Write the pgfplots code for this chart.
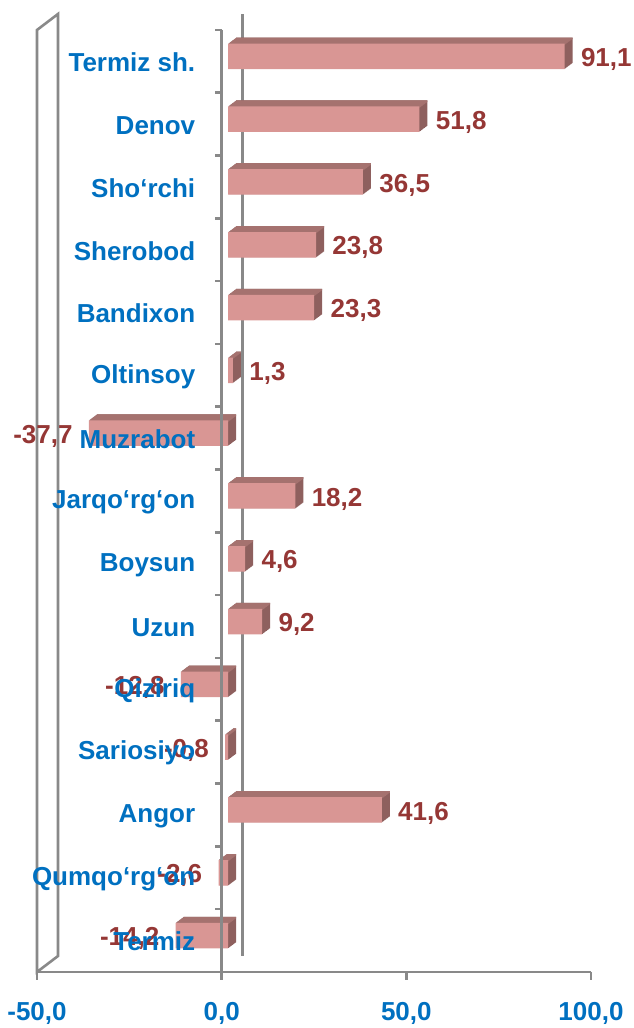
\documentclass[border=0pt]{standalone}
\usepackage{pgfplots}
\pgfplotsset{compat=1.18}
\usepackage{pgfplotstable}
\usepackage{fontspec}
\setmainfont{Liberation Sans}
\definecolor{frontc}{HTML}{D99694}
\definecolor{topc}{HTML}{A5726F}
\definecolor{sidec}{HTML}{8E605E}
\definecolor{axisgray}{HTML}{898989}
\definecolor{labelred}{HTML}{953735}
\definecolor{tickblue}{HTML}{0070C0}
\pgfplotstableread{
y v
0 -14.2
1 -2.6
2 41.6
3 -0.8
4 -12.8
5 9.2
6 4.6
7 18.2
8 -37.7
9 1.3
10 23.3
11 23.8
12 36.5
13 51.8
14 91.1
}\data
\begin{document}
\begin{tikzpicture}
\begin{axis}[
  set layers=axis on top,
  scale only axis, width=277pt, height=471pt,
  xmin=-50, xmax=100, ymin=-0.5, ymax=14.5,
  xtick={-50,0,50,100},
  ytick={0,...,14},
  yticklabels={Termiz,Qumqo‘rg‘on,Angor,Sariosiyo,Qiziriq,Uzun,Boysun,Jarqo‘rg‘on,Muzrabot,Oltinsoy,Bandixon,Sherobod,Sho‘rchi,Denov,Termiz sh.},
  axis line style={draw=none},
  tick style={draw=none},
  major tick length=0pt,
  /pgf/number format/.cd, fixed, fixed zerofill, precision=1, use comma, assume math mode=true,
  /pgfplots/.cd,
  ticklabel style={font=\bfseries\fontsize{13pt}{15pt}\selectfont, text=tickblue, inner sep=0pt},
  xticklabel style={anchor=north, yshift=-14.8pt},
  yticklabel style={anchor=east, xshift=79.3pt, yshift=-0.5pt},
  clip=false,
]
% background: left wall and back zero line
\draw[axisgray, line width=1.3pt] (axis cs:-50,-0.5) -- (axis cs:-50,14.5) -- ([shift={(10.5pt,8pt)}]axis cs:-50,14.5) -- ([shift={(10.5pt,8pt)}]axis cs:-50,-0.5) -- cycle;
\draw[axisgray, line width=1.3pt] ([shift={(10.5pt,8pt)}]axis cs:0,-0.5) -- ([shift={(10.5pt,8pt)}]axis cs:0,14.5);
% 3D extrusion (side colour)
\pgfplotsinvokeforeach{1,...,12}{
  \addplot[xbar, bar width=12.75pt, fill=sidec, draw=none, xshift={(3.25+#1/3)*1pt}, yshift={(2.5+#1/4)*1pt}] table[x=v,y=y]{\data};
}
% top faces
\pgfplotsinvokeforeach{1,...,12}{
  \addplot[xbar, bar width=0.8pt, fill=topc, draw=none, xshift={(3.25+#1/3)*1pt}, yshift={(8.475+#1/4)*1pt}] table[x=v,y=y]{\data};
}
% front faces
\addplot[xbar, bar width=12.75pt, fill=frontc, draw=none, xshift=3.25pt, yshift=2.5pt] table[x=v,y=y]{\data};
% front lines
\draw[axisgray, line width=1.3pt] (axis cs:-50,-0.5) -- (axis cs:100,-0.5);
\pgfplotsinvokeforeach{-50,0,50,100}{
  \draw[axisgray, line width=1.3pt] (axis cs:#1,-0.5) -- ++(0pt,-4pt);
}
\draw[axisgray, line width=1.3pt] (axis cs:0,14.5) -- (axis cs:0,-0.5);
\pgfplotsinvokeforeach{-0.5,0.5,...,14.5}{
  \draw[axisgray, line width=1.3pt] (axis cs:0,#1) -- ++(-3.5pt,0pt);
}
% data labels
\addplot[xbar, bar width=12.75pt, draw=none, fill=none, on layer=axis foreground, xshift=3.25pt, yshift=1pt,
  point meta=x, nodes near coords, nodes near coords align=horizontal,
  every node near coord/.append style={font=\bfseries\fontsize{13pt}{15pt}\selectfont, text=labelred, inner xsep=8pt, inner ysep=0pt}]
  table[x=v,y=y]{\data};
\end{axis}
\pgfresetboundingbox
\path (-18.5pt,-28pt) rectangle (298pt,486pt);
\end{tikzpicture}
\end{document}
